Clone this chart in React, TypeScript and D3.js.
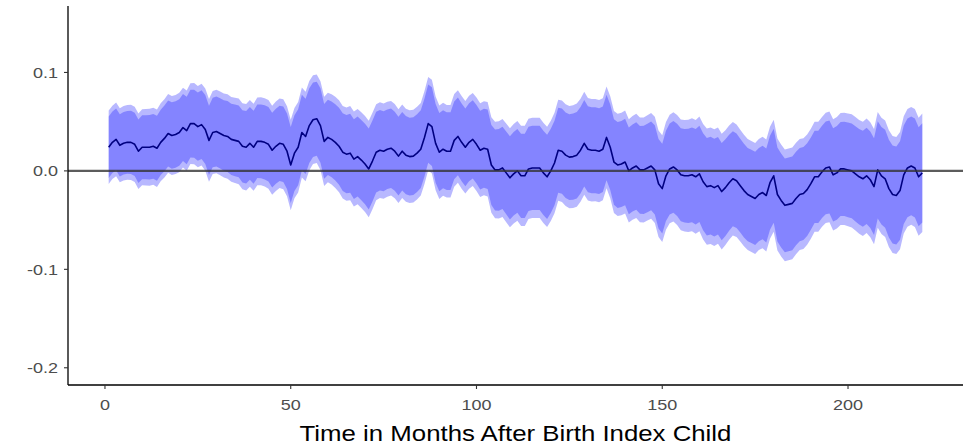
import React, { useRef, useEffect } from 'react';
import * as d3 from 'd3';

// months 1..220
const months: number[] = d3.range(1, 221);

// point estimate per month
const estimate: number[] = [
    0.024, 0.029, 0.032, 0.026, 0.028, 0.029, 0.029, 0.027, 0.020, 0.024,
    0.024, 0.024, 0.025, 0.023, 0.029, 0.033, 0.038, 0.036, 0.037, 0.039,
    0.044, 0.041, 0.048, 0.048, 0.045, 0.047, 0.042, 0.031, 0.039, 0.040,
    0.038, 0.036, 0.035, 0.032, 0.031, 0.030, 0.025, 0.024, 0.028, 0.024,
    0.030, 0.030, 0.029, 0.027, 0.021, 0.025, 0.028, 0.027, 0.020, 0.006,
    0.018, 0.024, 0.039, 0.035, 0.046, 0.052, 0.053, 0.046, 0.030, 0.034,
    0.032, 0.029, 0.025, 0.019, 0.017, 0.018, 0.012, 0.0145, 0.011, 0.007,
    0.002, 0.010, 0.019, 0.021, 0.020, 0.022, 0.023, 0.020, 0.015, 0.020,
    0.016, 0.0145, 0.015, 0.018, 0.022, 0.034, 0.048, 0.045, 0.028, 0.019,
    0.022, 0.020, 0.020, 0.031, 0.035, 0.029, 0.024, 0.029, 0.032, 0.027,
    0.021, 0.023, 0.022, 0.006, 0.001, 0.001, 0.003, -0.002, -0.007, -0.003,
    0.000, -0.005, -0.005, 0.002, 0.003, 0.003, 0.003, -0.002, -0.006, 0.000,
    0.008, 0.021, 0.020, 0.016, 0.014, 0.0145, 0.016, 0.021, 0.028, 0.022,
    0.021, 0.021, 0.020, 0.022, 0.034, 0.024, 0.009, 0.006, 0.007, 0.009,
    0.000, 0.003, 0.005, 0.001, 0.001, 0.003, 0.005, 0.001, -0.013, -0.018,
    -0.005, 0.002, 0.004, 0.001, -0.004, -0.005, -0.005, -0.004, -0.006, -0.003,
    -0.011, -0.016, -0.015, -0.017, -0.015, -0.021, -0.017, -0.012, -0.008, -0.010,
    -0.015, -0.020, -0.024, -0.026, -0.028, -0.024, -0.022, -0.025, -0.012, -0.005,
    -0.024, -0.030, -0.035, -0.034, -0.033, -0.028, -0.024, -0.023, -0.019, -0.013,
    -0.006, -0.006, -0.001, 0.003, 0.004, -0.004, -0.002, 0.002, 0.002, 0.001,
    0.000, -0.003, -0.006, -0.008, -0.005, -0.009, -0.016, 0.001, -0.005, -0.008,
    -0.018, -0.024, -0.025, -0.020, -0.004, 0.003, 0.005, 0.003, -0.006, -0.002,
];

// standard error per month
const stdErr: number[] = [
    0.0190, 0.0190, 0.0191, 0.0192, 0.0193, 0.0194, 0.0195, 0.0195, 0.0196, 0.0197,
    0.0198, 0.0199, 0.0200, 0.0201, 0.0202, 0.0203, 0.0204, 0.0205, 0.0205, 0.0206,
    0.0207, 0.0208, 0.0209, 0.0210, 0.0211, 0.0212, 0.0213, 0.0214, 0.0215, 0.0216,
    0.0217, 0.0218, 0.0219, 0.0220, 0.0221, 0.0222, 0.0223, 0.0224, 0.0225, 0.0226,
    0.0227, 0.0228, 0.0229, 0.0230, 0.0231, 0.0232, 0.0232, 0.0233, 0.0233, 0.0234,
    0.0234, 0.0234, 0.0233, 0.0232, 0.0231, 0.0230, 0.0229, 0.0230, 0.0231, 0.0232,
    0.0234, 0.0236, 0.0238, 0.0240, 0.0242, 0.0244, 0.0246, 0.0247, 0.0248, 0.0249,
    0.0250, 0.0250, 0.0249, 0.0248, 0.0247, 0.0246, 0.0245, 0.0244, 0.0243, 0.0242,
    0.0241, 0.0240, 0.0240, 0.0240, 0.0240, 0.0241, 0.0242, 0.0243, 0.0243, 0.0242,
    0.0241, 0.0240, 0.0240, 0.0240, 0.0240, 0.0240, 0.0240, 0.0241, 0.0241, 0.0242,
    0.0243, 0.0244, 0.0245, 0.0247, 0.0250, 0.0252, 0.0254, 0.0256, 0.0257, 0.0258,
    0.0259, 0.0260, 0.0260, 0.0260, 0.0260, 0.0260, 0.0260, 0.0260, 0.0260, 0.0260,
    0.0261, 0.0262, 0.0263, 0.0264, 0.0265, 0.0266, 0.0267, 0.0267, 0.0267, 0.0266,
    0.0266, 0.0265, 0.0265, 0.0264, 0.0264, 0.0264, 0.0264, 0.0265, 0.0266, 0.0267,
    0.0268, 0.0269, 0.0270, 0.0271, 0.0272, 0.0273, 0.0274, 0.0275, 0.0276, 0.0277,
    0.0279, 0.0281, 0.0283, 0.0285, 0.0287, 0.0289, 0.0291, 0.0293, 0.0295, 0.0297,
    0.0299, 0.0301, 0.0302, 0.0302, 0.0301, 0.0300, 0.0298, 0.0296, 0.0294, 0.0292,
    0.0290, 0.0289, 0.0288, 0.0288, 0.0288, 0.0288, 0.0289, 0.0290, 0.0290, 0.0290,
    0.0290, 0.0290, 0.0290, 0.0290, 0.0290, 0.0289, 0.0288, 0.0287, 0.0286, 0.0285,
    0.0285, 0.0285, 0.0285, 0.0286, 0.0287, 0.0288, 0.0289, 0.0290, 0.0291, 0.0292,
    0.0293, 0.0294, 0.0295, 0.0296, 0.0297, 0.0298, 0.0299, 0.0300, 0.0301, 0.0302,
    0.0302, 0.0303, 0.0303, 0.0304, 0.0304, 0.0305, 0.0305, 0.0306, 0.0306, 0.0307,
];

// critical values for the two ribbons (95% outer, 90% inner)
const bandZ: number[] = [1.96, 1.645];

const xTicks: number[] = [0, 50, 100, 150, 200];
const yTicks: number[] = [-0.2, -0.1, 0.0, 0.1];
const yLimits: number[] = [-0.2, 0.15];
const xTitle = "Time in Months After Birth Index Child";

const W = 971;
const H = 446;
const STRETCH = 1.2; // reference text is horizontally widened

export default function App() {
    const svgRef = useRef<SVGSVGElement>(null);

    useEffect(() => {
        if (!svgRef.current) return;
        const svg = d3.select(svgRef.current);
        svg.selectAll("*").remove();

        const left = 68, right = 963, top = 6, bottom = 385;

        // ggplot style 5% expansion
        const xMin = d3.min(months)!, xMax = d3.max(months)!;
        const xPad = (xMax - xMin) * 0.05;
        const yPad = (yLimits[1] - yLimits[0]) * 0.05;

        const x = d3.scaleLinear().domain([xMin - xPad, xMax + xPad]).range([left, right]);
        const y = d3.scaleLinear().domain([yLimits[0] - yPad, yLimits[1] + yPad]).range([bottom, top]);

        const rows = months.map((m, i) => ({ m, est: estimate[i], se: stdErr[i] }));

        // ribbons
        bandZ.forEach(z => {
            const area = d3.area<typeof rows[0]>()
                .x(d => x(d.m))
                .y0(d => y(d.est - z * d.se))
                .y1(d => y(d.est + z * d.se));
            svg.append("path")
                .datum(rows)
                .attr("d", area)
                .attr("fill", "blue")
                .attr("fill-opacity", 0.28);
        });

        // estimate line
        const line = d3.line<typeof rows[0]>()
            .x(d => x(d.m))
            .y(d => y(d.est));
        svg.append("path")
            .datum(rows)
            .attr("d", line)
            .attr("fill", "none")
            .attr("stroke", "#000080")
            .attr("stroke-width", 1.6)
            .attr("stroke-linejoin", "round");

        // zero reference line
        svg.append("line")
            .attr("x1", left).attr("x2", right)
            .attr("y1", y(0)).attr("y2", y(0))
            .attr("stroke", "#333")
            .attr("stroke-opacity", 0.8)
            .attr("stroke-width", 2.2);

        // axes
        const axisColor = "#000";
        svg.append("line")
            .attr("x1", left).attr("x2", left)
            .attr("y1", top).attr("y2", bottom)
            .attr("stroke", axisColor).attr("stroke-width", 1.3);
        svg.append("line")
            .attr("x1", left).attr("x2", right)
            .attr("y1", bottom).attr("y2", bottom)
            .attr("stroke", axisColor).attr("stroke-width", 1.3);

        const font = "'Liberation Sans', Arial, sans-serif";
        const fmt = (t: number) => d3.format(".1f")(t).replace("\u2212", "-");

        // y ticks
        yTicks.forEach(t => {
            svg.append("line")
                .attr("x1", left - 4).attr("x2", left)
                .attr("y1", y(t)).attr("y2", y(t))
                .attr("stroke", "#333").attr("stroke-width", 1.1);
            svg.append("text")
                .attr("transform", `translate(${left - 10},${y(t) + 5.5}) scale(${STRETCH},1)`)
                .attr("text-anchor", "end")
                .style("font-family", font)
                .style("font-size", "15px")
                .style("fill", "#4d4d4d")
                .text(fmt(t));
        });

        // x ticks
        xTicks.forEach(t => {
            svg.append("line")
                .attr("x1", x(t)).attr("x2", x(t))
                .attr("y1", bottom).attr("y2", bottom + 4)
                .attr("stroke", "#333").attr("stroke-width", 1.1);
            svg.append("text")
                .attr("transform", `translate(${x(t)},${bottom + 25}) scale(${STRETCH},1)`)
                .attr("text-anchor", "middle")
                .style("font-family", font)
                .style("font-size", "15px")
                .style("fill", "#4d4d4d")
                .text(String(t));
        });

        // x title
        svg.append("text")
            .attr("transform", `translate(${(left + right) / 2},${H - 5}) scale(${STRETCH},1)`)
            .attr("text-anchor", "middle")
            .style("font-family", font)
            .style("font-size", "21.5px")
            .style("fill", "#000")
            .text(xTitle);
    }, []);

    return (
        <svg
            ref={svgRef}
            width={W}
            height={H}
            style={{ position: "absolute", left: 0, top: 0, background: "#fff" }}
        />
    );
}
